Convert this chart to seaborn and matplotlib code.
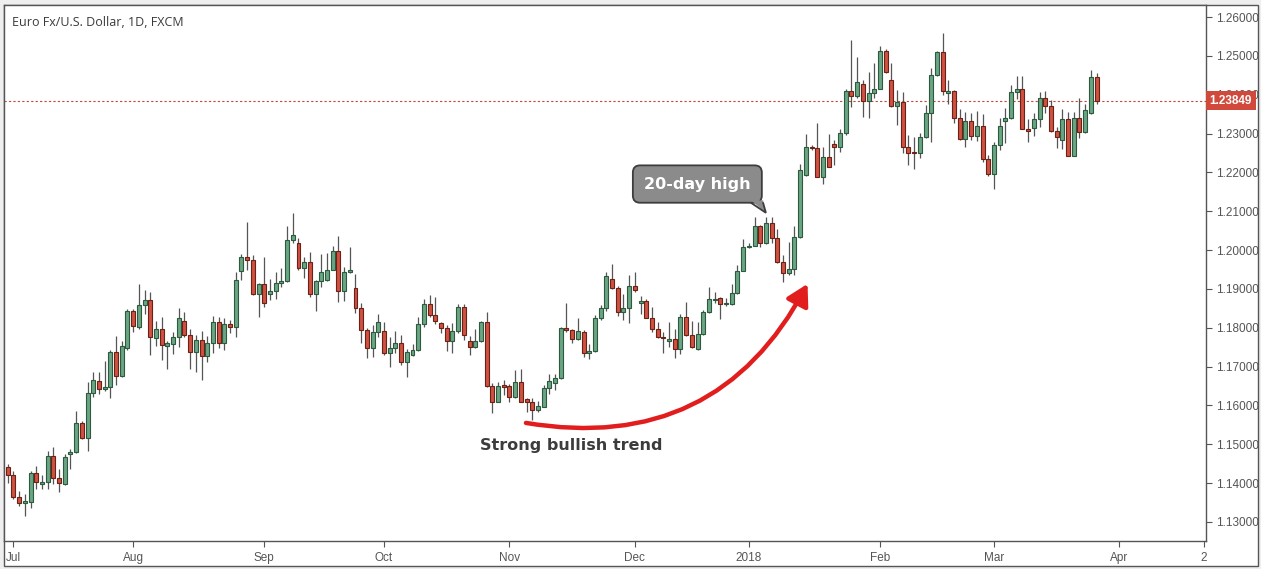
import numpy as np
import pandas as pd
import matplotlib
matplotlib.use('Agg')
import matplotlib.pyplot as plt
import seaborn as sns
from matplotlib.patches import FancyArrowPatch, Polygon, Rectangle

# EUR/USD daily candles, 30 Jun 2017 - 27 Mar 2018 (no bar for 25 Dec)
dates = pd.bdate_range('2017-06-30', '2018-03-27').drop(pd.Timestamp('2017-12-25'))

opens = [
    1.1441, 1.1420, 1.1365, 1.1348, 1.1352, 1.1425, 1.1397, 1.1402, 1.1469, 1.1413,
    1.1399, 1.1474, 1.1479, 1.1555, 1.1515, 1.1631, 1.1663, 1.1642, 1.1647, 1.1738,
    1.1677, 1.1747, 1.1843, 1.1803, 1.1858, 1.1871, 1.1773, 1.1796, 1.1754, 1.1759,
    1.1775, 1.1817, 1.1781, 1.1737, 1.1768, 1.1727, 1.1760, 1.1814, 1.1762, 1.1809,
    1.1801, 1.1945, 1.1981, 1.1974, 1.1886, 1.1912, 1.1887, 1.1895, 1.1914, 1.1920,
    1.2026, 1.2017, 1.1953, 1.1969, 1.1888, 1.1920, 1.1922, 1.1950, 1.1998, 1.1894,
    1.1943, 1.1902, 1.1850, 1.1793, 1.1747, 1.1788, 1.1791, 1.1734, 1.1747, 1.1760,
    1.1713, 1.1729, 1.1742, 1.1809, 1.1861, 1.1832, 1.1812, 1.1799, 1.1767, 1.1791,
    1.1853, 1.1765, 1.1751, 1.1765, 1.1814, 1.1651, 1.1610, 1.1653, 1.1649, 1.1621,
    1.1660, 1.1616, 1.1610, 1.1587, 1.1597, 1.1644, 1.1657, 1.1670, 1.1799, 1.1793,
    1.1770, 1.1789, 1.1734, 1.1739, 1.1824, 1.1850, 1.1925, 1.1902, 1.1840, 1.1850,
    1.1908, 1.1863, 1.1869, 1.1826, 1.1798, 1.1775, 1.1766, 1.1770, 1.1745, 1.1827,
    1.1781, 1.1745, 1.1783, 1.1841, 1.1872, 1.1876, 1.1860, 1.1861, 1.1889, 1.1946,
    1.2007, 1.2011, 1.2062, 1.2017, 1.2071, 1.2030, 1.1969, 1.1940, 1.1951, 1.2033,
    1.2194, 1.2265, 1.2262, 1.2188, 1.2239, 1.2272, 1.2265, 1.2301, 1.2409, 1.2397,
    1.2428, 1.2384, 1.2404, 1.2416, 1.2512, 1.2438, 1.2370, 1.2380, 1.2265, 1.2252,
    1.2249, 1.2292, 1.2352, 1.2452, 1.2509, 1.2404, 1.2410, 1.2339, 1.2285, 1.2332,
    1.2295, 1.2319, 1.2234, 1.2195, 1.2271, 1.2332, 1.2339, 1.2407, 1.2414, 1.2313,
    1.2315, 1.2337, 1.2391, 1.2370, 1.2306, 1.2283, 1.2337, 1.2243, 1.2339, 1.2304,
    1.2352, 1.2445,
]
highs = [
    1.1449, 1.1430, 1.1381, 1.1372, 1.1430, 1.1444, 1.1420, 1.1483, 1.1493, 1.1437,
    1.1474, 1.1488, 1.1586, 1.1561, 1.1660, 1.1686, 1.1686, 1.1715, 1.1743, 1.1779,
    1.1766, 1.1848, 1.1848, 1.1913, 1.1897, 1.1892, 1.1817, 1.1828, 1.1767, 1.1789,
    1.1851, 1.1841, 1.1796, 1.1781, 1.1792, 1.1779, 1.1830, 1.1829, 1.1826, 1.1820,
    1.1944, 1.1989, 1.2072, 1.1987, 1.1914, 1.1981, 1.1925, 1.1944, 1.1953, 1.2062,
    1.2095, 1.2032, 1.1983, 1.1996, 1.1923, 1.1990, 1.1992, 1.2011, 1.2036, 1.1957,
    1.2009, 1.1938, 1.1863, 1.1800, 1.1806, 1.1835, 1.1816, 1.1775, 1.1791, 1.1781,
    1.1745, 1.1757, 1.1829, 1.1873, 1.1885, 1.1880, 1.1816, 1.1807, 1.1811, 1.1861,
    1.1861, 1.1780, 1.1796, 1.1817, 1.1840, 1.1657, 1.1661, 1.1666, 1.1654, 1.1691,
    1.1693, 1.1618, 1.1619, 1.1612, 1.1653, 1.1680, 1.1681, 1.1803, 1.1865, 1.1796,
    1.1824, 1.1794, 1.1758, 1.1833, 1.1859, 1.1944, 1.1964, 1.1908, 1.1887, 1.1936,
    1.1943, 1.1882, 1.1873, 1.1853, 1.1816, 1.1790, 1.1816, 1.1798, 1.1835, 1.1867,
    1.1817, 1.1816, 1.1846, 1.1904, 1.1893, 1.1880, 1.1876, 1.1913, 1.1962, 1.2028,
    1.2017, 1.2084, 1.2065, 1.2086, 1.2084, 1.2053, 1.1987, 1.2022, 1.2062, 1.2222,
    1.2298, 1.2271, 1.2326, 1.2266, 1.2298, 1.2283, 1.2311, 1.2416, 1.2541, 1.2498,
    1.2438, 1.2459, 1.2481, 1.2525, 1.2519, 1.2481, 1.2412, 1.2408, 1.2296, 1.2292,
    1.2301, 1.2373, 1.2470, 1.2512, 1.2560, 1.2438, 1.2412, 1.2363, 1.2355, 1.2354,
    1.2359, 1.2350, 1.2245, 1.2277, 1.2339, 1.2367, 1.2425, 1.2448, 1.2448, 1.2337,
    1.2354, 1.2408, 1.2410, 1.2386, 1.2316, 1.2362, 1.2356, 1.2356, 1.2391, 1.2376,
    1.2464, 1.2455,
]
lows = [
    1.1400, 1.1358, 1.1340, 1.1316, 1.1335, 1.1384, 1.1386, 1.1386, 1.1397, 1.1376,
    1.1395, 1.1437, 1.1477, 1.1513, 1.1484, 1.1623, 1.1630, 1.1636, 1.1618, 1.1653,
    1.1674, 1.1743, 1.1790, 1.1797, 1.1836, 1.1731, 1.1754, 1.1717, 1.1693, 1.1733,
    1.1751, 1.1775, 1.1693, 1.1685, 1.1666, 1.1713, 1.1736, 1.1749, 1.1743, 1.1787,
    1.1777, 1.1923, 1.1949, 1.1884, 1.1827, 1.1853, 1.1872, 1.1873, 1.1906, 1.1919,
    1.2019, 1.1950, 1.1929, 1.1878, 1.1842, 1.1906, 1.1920, 1.1949, 1.1867, 1.1870,
    1.1942, 1.1837, 1.1762, 1.1721, 1.1726, 1.1777, 1.1730, 1.1700, 1.1736, 1.1703,
    1.1674, 1.1727, 1.1741, 1.1801, 1.1829, 1.1809, 1.1786, 1.1741, 1.1734, 1.1786,
    1.1769, 1.1729, 1.1749, 1.1763, 1.1648, 1.1580, 1.1608, 1.1627, 1.1610, 1.1620,
    1.1609, 1.1584, 1.1563, 1.1584, 1.1595, 1.1630, 1.1640, 1.1667, 1.1790, 1.1762,
    1.1768, 1.1726, 1.1719, 1.1738, 1.1820, 1.1842, 1.1899, 1.1831, 1.1820, 1.1813,
    1.1893, 1.1836, 1.1824, 1.1790, 1.1773, 1.1734, 1.1751, 1.1721, 1.1733, 1.1779,
    1.1747, 1.1743, 1.1781, 1.1837, 1.1863, 1.1822, 1.1856, 1.1859, 1.1887, 1.1945,
    1.2005, 1.2010, 1.2007, 1.2016, 1.2017, 1.1968, 1.1919, 1.1936, 1.1936, 1.2030,
    1.2192, 1.2258, 1.2187, 1.2170, 1.2213, 1.2219, 1.2253, 1.2296, 1.2369, 1.2391,
    1.2342, 1.2339, 1.2391, 1.2415, 1.2457, 1.2368, 1.2322, 1.2251, 1.2219, 1.2210,
    1.2238, 1.2289, 1.2279, 1.2449, 1.2398, 1.2376, 1.2326, 1.2283, 1.2265, 1.2283,
    1.2282, 1.2226, 1.2192, 1.2156, 1.2258, 1.2275, 1.2337, 1.2388, 1.2312, 1.2277,
    1.2294, 1.2317, 1.2352, 1.2304, 1.2264, 1.2261, 1.2242, 1.2242, 1.2289, 1.2302,
    1.2350, 1.2376,
]
closes = [
    1.1420, 1.1365, 1.1348, 1.1354, 1.1426, 1.1402, 1.1402, 1.1469, 1.1412, 1.1400,
    1.1467, 1.1480, 1.1555, 1.1515, 1.1631, 1.1666, 1.1642, 1.1648, 1.1738, 1.1677,
    1.1752, 1.1843, 1.1804, 1.1858, 1.1871, 1.1775, 1.1796, 1.1755, 1.1760, 1.1775,
    1.1824, 1.1781, 1.1737, 1.1769, 1.1727, 1.1760, 1.1814, 1.1762, 1.1809, 1.1801,
    1.1923, 1.1981, 1.1974, 1.1886, 1.1912, 1.1863, 1.1895, 1.1914, 1.1920, 1.2026,
    1.2038, 1.1953, 1.1969, 1.1888, 1.1920, 1.1944, 1.1950, 1.1998, 1.1894, 1.1943,
    1.1950, 1.1850, 1.1794, 1.1747, 1.1788, 1.1814, 1.1734, 1.1747, 1.1760, 1.1713,
    1.1738, 1.1742, 1.1809, 1.1861, 1.1832, 1.1818, 1.1799, 1.1767, 1.1791, 1.1853,
    1.1781, 1.1751, 1.1765, 1.1814, 1.1651, 1.1608, 1.1651, 1.1648, 1.1621, 1.1660,
    1.1610, 1.1610, 1.1587, 1.1599, 1.1644, 1.1664, 1.1670, 1.1799, 1.1793, 1.1770,
    1.1792, 1.1734, 1.1740, 1.1824, 1.1850, 1.1933, 1.1902, 1.1840, 1.1850, 1.1908,
    1.1896, 1.1869, 1.1826, 1.1798, 1.1775, 1.1773, 1.1770, 1.1745, 1.1827, 1.1781,
    1.1750, 1.1783, 1.1841, 1.1873, 1.1875, 1.1860, 1.1863, 1.1889, 1.1946, 1.2007,
    1.2011, 1.2062, 1.2017, 1.2071, 1.2030, 1.1969, 1.1940, 1.1951, 1.2033, 1.2205,
    1.2265, 1.2262, 1.2188, 1.2239, 1.2215, 1.2265, 1.2301, 1.2409, 1.2397, 1.2432,
    1.2384, 1.2404, 1.2416, 1.2512, 1.2458, 1.2370, 1.2380, 1.2265, 1.2249, 1.2249,
    1.2292, 1.2352, 1.2452, 1.2509, 1.2410, 1.2410, 1.2339, 1.2285, 1.2332, 1.2295,
    1.2319, 1.2234, 1.2195, 1.2271, 1.2319, 1.2339, 1.2407, 1.2414, 1.2313, 1.2306,
    1.2337, 1.2391, 1.2370, 1.2306, 1.2290, 1.2337, 1.2243, 1.2339, 1.2304, 1.2361,
    1.2445, 1.23849,
]

last_price = 1.23849
price_ticks = [1.13, 1.14, 1.15, 1.16, 1.17, 1.18, 1.19, 1.20, 1.21, 1.22, 1.23, 1.24, 1.25, 1.26]

df = pd.DataFrame({'date': dates, 'open': opens, 'high': highs, 'low': lows, 'close': closes})
df['bar'] = np.arange(len(df))
df['up'] = df['close'] >= df['open']

sns.set_style('white')
plt.rcParams['font.family'] = ['Liberation Sans', 'DejaVu Sans']

W, H = 1261, 569
fig = plt.figure(figsize=(W / 100, H / 100), dpi=100, facecolor='#efefef')
fig.patches.append(Rectangle((3.5 / W, 3 / H), 1254.5 / W, 561 / H, transform=fig.transFigure,
                             facecolor='white', edgecolor='#555555', lw=1, zorder=-5))
ax = fig.add_axes([3.5 / W, 1 - 541 / H, (1206 - 3.5) / W, (541 - 5) / H])
ax.set_zorder(2)
ax.set_facecolor('white')

# wicks and bodies
up_face, up_edge = '#6aa584', '#2c5a3d'
dn_face, dn_edge = '#cf5140', '#6a2117'
ax.vlines(df['bar'], df['low'], df['high'], color='#555555', lw=0.9, zorder=2)
body_lo = df[['open', 'close']].min(axis=1)
body_h = (df['close'] - df['open']).abs().clip(lower=0.00008)
ax.bar(df['bar'], body_h, bottom=body_lo, width=0.7,
       color=np.where(df['up'], up_face, dn_face),
       edgecolor=np.where(df['up'], up_edge, dn_edge), linewidth=0.8, zorder=3)

# last price line and tag
ax.axhline(last_price, color='#c4493a', lw=0.8, ls=(0, (2, 2)), zorder=1)
ax.text(1.003, last_price, f'{last_price:.5f}', transform=ax.get_yaxis_transform(),
        ha='left', va='center', color='white', fontsize=8.5, fontweight='bold', zorder=5,
        clip_on=False, bbox=dict(boxstyle='square,pad=0.3', fc='#d0493b', ec='none'))

# axes
ax.set_xlim(-0.75, 210.2)
ax.set_ylim(1.1251, 1.2631)
ax.yaxis.tick_right()
ax.set_yticks(price_ticks)
ax.set_yticklabels([f'{p:.5f}' for p in price_ticks])

month_first = df.groupby(df['date'].dt.to_period('M'))['bar'].first().iloc[1:]
xt_pos = list(month_first.values) + [len(df) + 3, 209.8]
xt_lab = ['2018' if p.month == 1 else p.strftime('%b') for p in month_first.index] + ['Apr', '2']
ax.set_xticks(xt_pos)
ax.set_xticklabels(xt_lab)
ax.tick_params(axis='both', colors='#555555', labelsize=8.5, length=4, width=0.8,
               direction='out')
ax.tick_params(axis='y', pad=3, labelcolor='#555555')
ax.tick_params(axis='x', pad=4, labelcolor='#555555')
ax.tick_params(axis='y', which='both', left=False, right=True)
ax.tick_params(axis='x', which='both', bottom=True, top=False)
for s in ax.spines.values():
    s.set_color('#555555')
    s.set_linewidth(1)

ax.text(0.007, 0.968, 'Euro Fx/U.S. Dollar, 1D, FXCM', transform=ax.transAxes,
        ha='left', va='center', fontsize=9, color='#3a3a3a', family=['Open Sans', 'DejaVu Sans'])

# callout "20-day high"
ax.text(120.97, 1.2170, '20-day high', ha='center', va='center', fontsize=11.5,
        fontweight='bold', color='white', family='DejaVu Sans', zorder=7,
        bbox=dict(boxstyle='round,pad=0.7,rounding_size=0.45', fc='#8b8b8b', ec='#3d3d3d', lw=1.3))
ax.add_patch(Polygon([(130.4, 1.2128), (132.5, 1.2128), (133.0, 1.2096)], closed=True,
                     fc='#8b8b8b', ec='none', zorder=8))
ax.plot([130.4, 133.0, 132.5], [1.21215, 1.2096, 1.21215], color='#3d3d3d', lw=1.3,
        zorder=8, solid_joinstyle='miter')

# curved trend arrow
ax.add_patch(FancyArrowPatch((90.9, 1.1555), (140.3, 1.1913), connectionstyle='arc3,rad=0.36',
                             arrowstyle='-|>,head_length=0.7,head_width=0.4', mutation_scale=18,
                             color='#e11d1d', lw=3.2, zorder=6, shrinkA=0, shrinkB=0))
ax.text(98.8, 1.1496, 'Strong bullish trend', ha='center', va='center', fontsize=11.5,
        fontweight='bold', color='#3c3c3c', family='DejaVu Sans', zorder=7)

fig.savefig('out.png', dpi=100, facecolor=fig.get_facecolor())
